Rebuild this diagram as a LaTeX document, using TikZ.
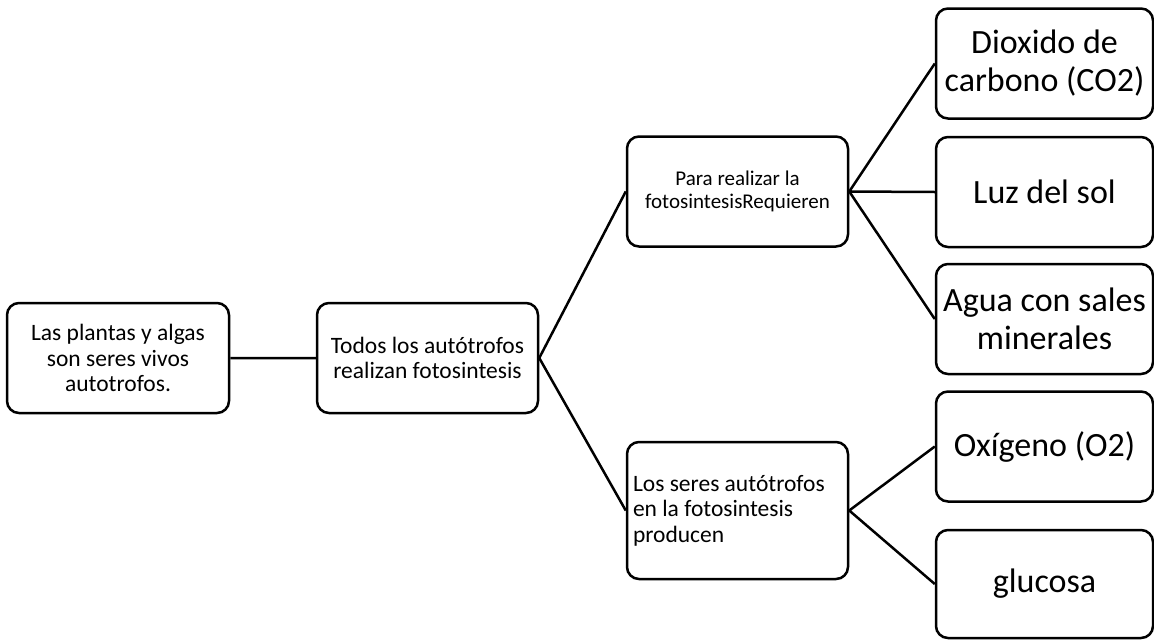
\documentclass[tikz,border=0pt]{standalone}
\usepackage{fontspec}
\setmainfont{Carlito}
\begin{document}
\begin{tikzpicture}[x=1pt, y=-1pt, line width=2.5pt,
	box/.style={draw, rounded corners=12pt, align=center, inner sep=4pt},
	mid/.style={box, minimum width=221pt, minimum height=110pt, font=\fontsize{23.5}{25.5}\selectfont},
	leaf/.style={box, minimum width=217pt, minimum height=110pt, font=\fontsize{34}{38}\selectfont}]
	\useasboundingbox (0,0) rectangle (1154,640);
	\path
		(118,358) node[mid, minimum width=222pt] (Las) {Las plantas y algas\\son seres vivos\\autotrofos.}
		(427.5,358) node[mid] (Todos) {Todos los autótrofos\\realizan fotosintesis}
		(737.5,191.5) node[mid, font=\fontsize{21}{23}\selectfont] (Para) {Para realizar la\\fotosintesisRequieren}
		(737.5,510.5) node[mid, minimum height=137pt, align=flush left, text width=209pt, inner xsep=6pt] (Seres) {Los seres autótrofos\\en la fotosintesis\\producen}
		(1044.5,63.5) node[leaf] (CO) {Dioxido de\\carbono (CO2)}
		(1044.5,192) node[leaf] (Luz) {Luz del sol}
		(1044.5,319) node[leaf] (Agua) {Agua con sales\\minerales}
		(1044.5,446.5) node[leaf] (Oxi) {Oxígeno (O2)}
		(1044.5,584) node[leaf, minimum height=108pt] (Glu) {glucosa}
	;
	\draw
		(Las) -- (Todos)
		(Todos.east) -- (Para.west)
		(Todos.east) -- (Seres.west)
		(Para.east) -- (CO.west)
		(Para.east) -- (Luz.west)
		(Para.east) -- (Agua.west)
		(Seres.east) -- (Oxi.west)
		(Seres.east) -- (Glu.west)
	;
\end{tikzpicture}
\end{document}
